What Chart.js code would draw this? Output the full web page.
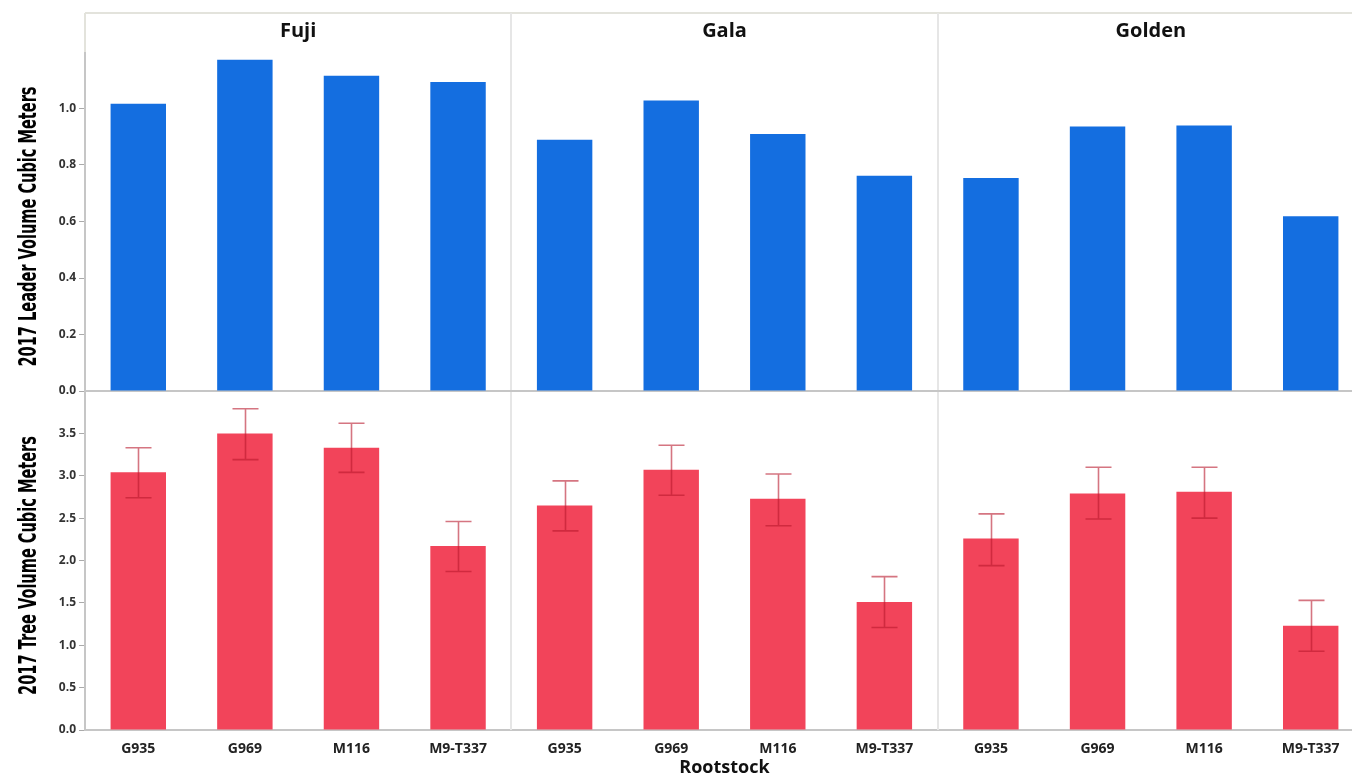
<!DOCTYPE html>
<html>
<head>
<meta charset="utf-8">
<script src="https://cdn.jsdelivr.net/npm/chart.js@4.4.1/dist/chart.umd.min.js"></script>
<style>
  html, body { margin: 0; padding: 0; background: #fff; overflow: hidden; }
  #wrap { position: relative; width: 1352px; height: 776px; overflow: hidden; }
  #c { position: absolute; left: 0; top: 0; }
</style>
</head>
<body>
<div id="wrap"><canvas id="c" width="1364" height="776"></canvas></div>
<script>
// Varieties (panels) and rootstocks (bars inside each panel)
const varieties = ['Fuji', 'Gala', 'Golden'];
const rootstocks = ['G935', 'G969', 'M116', 'M9-T337'];

// 2017 leader volume (m³), ordered Fuji, Gala, Golden × rootstocks
const leaderVolume = [1.017, 1.173, 1.116, 1.094, 0.889, 1.028, 0.910, 0.762, 0.754, 0.936, 0.940, 0.619];

// 2017 tree volume (m³) with error bar limits
const treeVolume = [3.04, 3.50, 3.33, 2.17, 2.65, 3.07, 2.73, 1.51, 2.26, 2.79, 2.81, 1.23];
const treeLow    = [2.74, 3.19, 3.04, 1.87, 2.35, 2.77, 2.41, 1.21, 1.94, 2.49, 2.50, 0.93];
const treeHigh   = [3.33, 3.79, 3.62, 2.46, 2.94, 3.36, 3.02, 1.81, 2.55, 3.10, 3.10, 1.53];

// Tick values shown on each y axis
const leaderTicks = [0, 0.2, 0.4, 0.6, 0.8, 1.0];
const treeTicks = [0, 0.5, 1.0, 1.5, 2.0, 2.5, 3.0, 3.5];

// Axis titles
const leaderTitle = '2017 Leader Volume Cubic Meters';
const treeTitle = '2017 Tree Volume Cubic Meters';
const xTitle = 'Rootstock';

const labels = varieties.flatMap(() => rootstocks);

const UI_FONT = "'Open Sans', 'Noto Sans', sans-serif";
const TITLE_FONT = "bold 25px 'DejaVu Sans', sans-serif";
const AXIS_GREY = '#c6c6c6';
const FRAME_GREY = '#e3e3dc';

// Panel frames, separators and variety headers
const panelFrame = {
  id: 'panelFrame',
  beforeDatasetsDraw(chart) {
    const { ctx, chartArea, scales } = chart;
    const x = scales.x;
    const yTop = scales.yTop;
    ctx.save();
    ctx.strokeStyle = FRAME_GREY;
    ctx.lineWidth = 2;
    ctx.beginPath();
    ctx.moveTo(chartArea.left, 13);
    ctx.lineTo(chartArea.right, 13);
    ctx.moveTo(chartArea.left, 13);
    ctx.lineTo(chartArea.left, chartArea.top);
    ctx.stroke();
    // separators between varieties
    ctx.strokeStyle = '#e6e6e6';
    ctx.lineWidth = 2;
    for (let g = 1; g < varieties.length; g++) {
      const i = g * rootstocks.length;
      const sx = Math.round((x.getPixelForValue(i - 1) + x.getPixelForValue(i)) / 2);
      ctx.beginPath();
      ctx.moveTo(sx, 13);
      ctx.lineTo(sx, chartArea.bottom);
      ctx.stroke();
    }
    // zero line of the upper panel
    const y0 = yTop.getPixelForValue(0);
    ctx.strokeStyle = AXIS_GREY;
    ctx.lineWidth = 2;
    ctx.beginPath();
    ctx.moveTo(chartArea.left, y0);
    ctx.lineTo(chartArea.right, y0);
    ctx.stroke();
    ctx.restore();
  },
  afterDraw(chart) {
    const { ctx, scales } = chart;
    const x = scales.x;
    ctx.save();
    ctx.fillStyle = '#111';
    ctx.font = "bold 20px " + UI_FONT;
    ctx.textAlign = 'center';
    ctx.textBaseline = 'middle';
    varieties.forEach((name, g) => {
      const a = x.getPixelForValue(g * rootstocks.length);
      const b = x.getPixelForValue(g * rootstocks.length + rootstocks.length - 1);
      ctx.fillText(name, (a + b) / 2, 31);
    });
    ctx.restore();
  }
};

// Condensed, rotated y axis titles centred on each panel
const axisTitles = {
  id: 'axisTitles',
  afterDraw(chart) {
    const { ctx, scales } = chart;
    ctx.save();
    ctx.font = TITLE_FONT;
    const squeeze = 280 / ctx.measureText(leaderTitle).width;
    [[scales.yTop, leaderTitle], [scales.yBot, treeTitle]].forEach(([s, text]) => {
      const cy = (s.top + s.bottom) / 2 + 5;
      ctx.save();
      ctx.translate(29, cy);
      ctx.rotate(-Math.PI / 2);
      ctx.scale(squeeze, 1);
      ctx.fillStyle = '#000';
      ctx.textAlign = 'center';
      ctx.textBaseline = 'middle';
      ctx.fillText(text, 0, 0);
      ctx.restore();
    });
    ctx.restore();
  }
};

// Error bars for the tree volume bars
const errorBars = {
  id: 'errorBars',
  afterDatasetsDraw(chart) {
    const { ctx, scales } = chart;
    const x = scales.x;
    const y = scales.yBot;
    ctx.save();
    ctx.strokeStyle = 'rgba(185, 25, 45, 0.6)';
    ctx.lineWidth = 1.6;
    const cap = 13;
    treeVolume.forEach((_, i) => {
      const cx = Math.round(x.getPixelForValue(i)) + 0.5;
      const hi = y.getPixelForValue(treeHigh[i]);
      const lo = y.getPixelForValue(treeLow[i]);
      ctx.beginPath();
      ctx.moveTo(cx, hi);
      ctx.lineTo(cx, lo);
      ctx.moveTo(cx - cap, hi);
      ctx.lineTo(cx + cap, hi);
      ctx.moveTo(cx - cap, lo);
      ctx.lineTo(cx + cap, lo);
      ctx.stroke();
    });
    ctx.restore();
  }
};

function yAxis(max, tickValues) {
  return {
    type: 'linear',
    position: 'left',
    stack: 'rows',
    stackWeight: 1,
    min: 0,
    max: max,
    afterBuildTicks: (scale) => { scale.ticks = tickValues.map(v => ({ value: v })); },
    afterFit: (scale) => { scale.width = 85; },
    ticks: {
      color: '#333',
      padding: 3,
      font: { family: UI_FONT, weight: 'bold', size: 12 },
      callback: (v) => Number(v).toFixed(1)
    },
    grid: { drawOnChartArea: false, drawTicks: true, tickLength: 6, color: '#aaa' },
    border: { display: true, color: AXIS_GREY, width: 2 },
    title: { display: false }
  };
}

new Chart(document.getElementById('c'), {
  type: 'bar',
  data: {
    labels: labels,
    datasets: [
      {
        label: leaderTitle,
        data: leaderVolume,
        yAxisID: 'yTop',
        backgroundColor: '#146ee0',
        grouped: false,
        barPercentage: 0.52,
        categoryPercentage: 1
      },
      {
        label: treeTitle,
        data: treeVolume,
        yAxisID: 'yBot',
        backgroundColor: '#f2445a',
        grouped: false,
        barPercentage: 0.52,
        categoryPercentage: 1
      }
    ]
  },
  options: {
    responsive: false,
    animation: false,
    devicePixelRatio: 1,
    layout: { padding: { top: 52, right: 0, left: 0, bottom: 0 } },
    plugins: { legend: { display: false }, tooltip: { enabled: false } },
    scales: {
      x: {
        type: 'category',
        afterFit: (scale) => { scale.height = 46; },
        ticks: {
          color: '#222',
          padding: 3,
          autoSkip: false,
          maxRotation: 0,
          font: { family: UI_FONT, weight: 'bold', size: 14 }
        },
        grid: { display: false },
        border: { display: true, color: AXIS_GREY, width: 2 },
        title: {
          display: true,
          text: xTitle,
          color: '#111',
          padding: { top: 0, bottom: -3 },
          font: { family: UI_FONT, weight: 'bold', size: 18 }
        }
      },
      yBot: yAxis(4.0, treeTicks),
      yTop: yAxis(1.2, leaderTicks)
    }
  },
  plugins: [panelFrame, errorBars, axisTitles]
});
</script>
</body>
</html>
